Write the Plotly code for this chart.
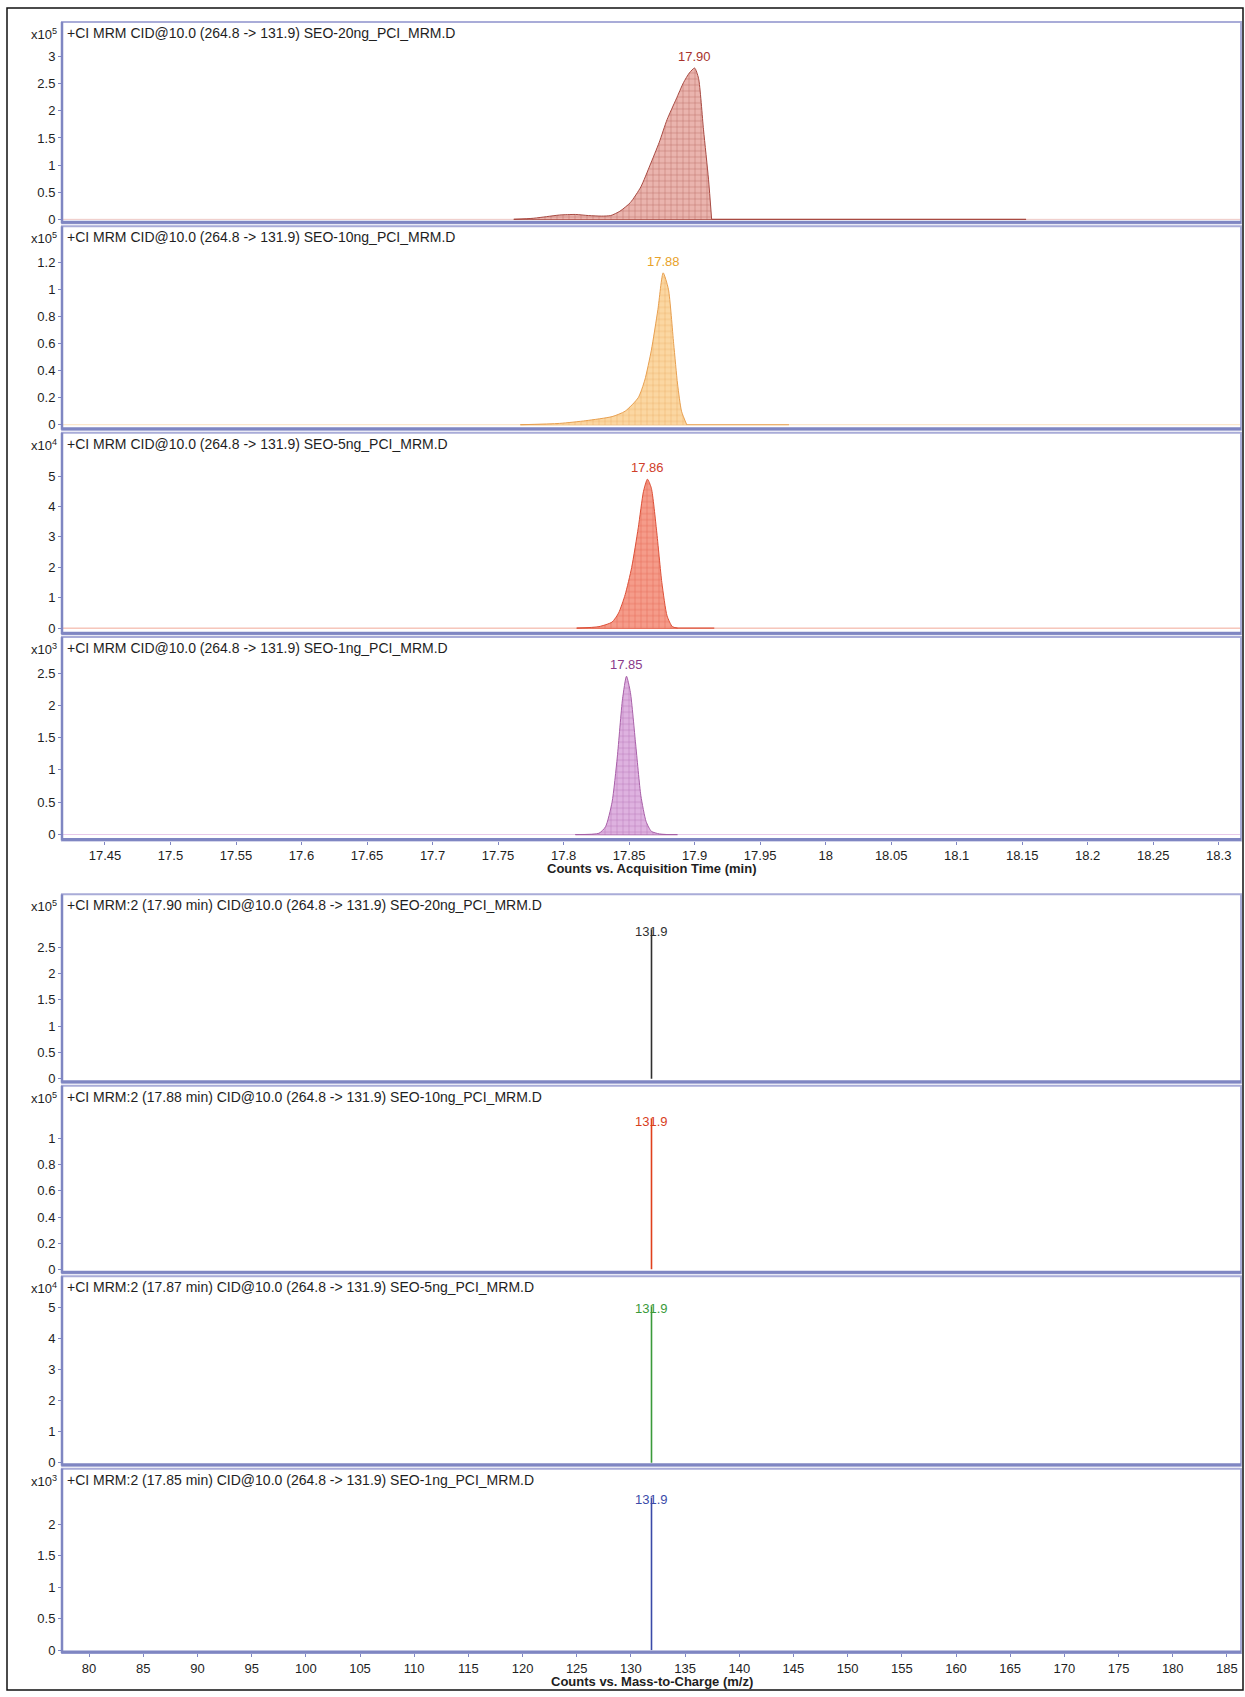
import plotly.graph_objects as go

W, H = 1245, 1697

# ---------------- data ----------------
# Chromatograms (x: acquisition time, min ; y: counts in the panel's x10^n unit)
time_20ng = [17.762, 17.777, 17.787, 17.797, 17.809, 17.819, 17.829, 17.836, 17.843, 17.851, 17.859, 17.866, 17.873, 17.879, 17.886, 17.8915, 17.896, 17.900, 17.903, 17.9068, 17.9106, 17.913]
int_20ng = [0.0, 0.02, 0.05, 0.08, 0.09, 0.07, 0.06, 0.07, 0.15, 0.31, 0.6, 1.0, 1.42, 1.84, 2.22, 2.52, 2.7, 2.79, 2.6, 1.65, 0.74, 0.0]
base_20ng = [17.762, 18.153]

time_10ng = [17.767, 17.797, 17.817, 17.837, 17.847, 17.857, 17.862, 17.867, 17.872, 17.876, 17.880, 17.884, 17.887, 17.890, 17.894]
int_10ng = [0.0, 0.01, 0.03, 0.06, 0.1, 0.2, 0.33, 0.55, 0.85, 1.12, 1.0, 0.6, 0.3, 0.1, 0.0]
base_10ng = [17.767, 17.972]

time_5ng = [17.810, 17.827, 17.837, 17.842, 17.847, 17.852, 17.857, 17.861, 17.864, 17.867, 17.871, 17.875, 17.879, 17.883, 17.887]
int_5ng = [0.0, 0.05, 0.2, 0.5, 1.1, 2.0, 3.3, 4.5, 4.9, 4.6, 3.2, 1.5, 0.4, 0.05, 0.0]
base_5ng = [17.810, 17.915]

time_1ng = [17.809, 17.827, 17.832, 17.837, 17.841, 17.845, 17.848, 17.851, 17.855, 17.859, 17.863, 17.867, 17.873, 17.879]
int_1ng = [0.0, 0.02, 0.12, 0.5, 1.2, 2.1, 2.45, 2.2, 1.4, 0.6, 0.2, 0.05, 0.01, 0.0]
base_1ng = [17.809, 17.887]

peak_rt = ["17.90", "17.88", "17.86", "17.85"]
peak_rt_x = [17.900, 17.876, 17.864, 17.848]
peak_rt_y = [2.79, 1.12, 4.9, 2.45]

# Product ion spectra
spec_mz = [131.9, 131.9, 131.9, 131.9]
spec_int = [2.84, 1.15, 5.03, 2.43]
spec_label = ["131.9", "131.9", "131.9", "131.9"]

chrom_titles = [
    "+CI MRM CID@10.0 (264.8 -> 131.9) SEO-20ng_PCI_MRM.D",
    "+CI MRM CID@10.0 (264.8 -> 131.9) SEO-10ng_PCI_MRM.D",
    "+CI MRM CID@10.0 (264.8 -> 131.9) SEO-5ng_PCI_MRM.D",
    "+CI MRM CID@10.0 (264.8 -> 131.9) SEO-1ng_PCI_MRM.D",
]
spec_titles = [
    "+CI MRM:2 (17.90 min) CID@10.0 (264.8 -> 131.9) SEO-20ng_PCI_MRM.D",
    "+CI MRM:2 (17.88 min) CID@10.0 (264.8 -> 131.9) SEO-10ng_PCI_MRM.D",
    "+CI MRM:2 (17.87 min) CID@10.0 (264.8 -> 131.9) SEO-5ng_PCI_MRM.D",
    "+CI MRM:2 (17.85 min) CID@10.0 (264.8 -> 131.9) SEO-1ng_PCI_MRM.D",
]
exponents = ["5", "5", "4", "3", "5", "5", "4", "3"]

y_ticks = [
    [0, 0.5, 1, 1.5, 2, 2.5, 3],
    [0, 0.2, 0.4, 0.6, 0.8, 1, 1.2],
    [0, 1, 2, 3, 4, 5],
    [0, 0.5, 1, 1.5, 2, 2.5],
    [0, 0.5, 1, 1.5, 2, 2.5],
    [0, 0.2, 0.4, 0.6, 0.8, 1],
    [0, 1, 2, 3, 4, 5],
    [0, 0.5, 1, 1.5, 2],
]
time_ticks = [17.45, 17.5, 17.55, 17.6, 17.65, 17.7, 17.75, 17.8, 17.85, 17.9, 17.95,
              18.0, 18.05, 18.1, 18.15, 18.2, 18.25, 18.3]
time_tick_text = ["17.45", "17.5", "17.55", "17.6", "17.65", "17.7", "17.75", "17.8", "17.85",
                  "17.9", "17.95", "18", "18.05", "18.1", "18.15", "18.2", "18.25", "18.3"]
mz_ticks = list(range(80, 186, 5))

# ---------------- layout geometry (pixels) ----------------
px_left, px_right = 62, 1241
# (top px, bottom px, zero px, px per unit)
panels = [
    (22, 224, 220, 54.4),
    (227, 431, 426, 136.0),
    (434, 636, 630, 30.5),
    (639, 843, 837, 64.8),
    (897, 1086, 1082, 52.8),
    (1089, 1277, 1273, 131.0),
    (1280, 1470, 1467, 31.2),
    (1473, 1658, 1655, 63.0),
]
time_range = [17.4172, 18.3170]
mz_range = [77.5, 186.3]

FONT = "Liberation Sans, Arial, sans-serif"
TXT = "#1e1e1e"
FRAME = "#a9acd8"
AXIS = "#7f86c2"

chrom_fill = ["#eab4ae", "#fbd7a2", "#f59c8a", "#deb2e0"]
chrom_grid = ["#9c3a34", "#e0903a", "#d8402a", "#9a4a9a"]
chrom_line = ["#a84a42", "#e8a050", "#dc5038", "#a860a8"]
chrom_base = ["#eec8c4", "#fbe0bc", "#f2a898", "#e8c8ea"]
rt_color = ["#a8322c", "#e8a22a", "#d0402a", "#8a3a8a"]
spec_color = ["#303030", "#e0401c", "#3a9a3a", "#3a4aa8"]
label_spec_color = ["#303030", "#d8401c", "#3a9a3a", "#3a4aa8"]

fig = go.Figure()
layout = dict(
    width=W, height=H, margin=dict(l=0, r=0, t=0, b=0),
    paper_bgcolor="white", plot_bgcolor="white", showlegend=False,
    font=dict(family=FONT, size=13, color=TXT),
)

annotations = []
shapes = []

def ypaper(py):
    return 1 - py / H

for i, (top, bot, zero, ppu) in enumerate(panels):
    n = i + 1
    xa = "xaxis" if n == 1 else f"xaxis{n}"
    ya = "yaxis" if n == 1 else f"yaxis{n}"
    xr = "x" if n == 1 else f"x{n}"
    yr = "y" if n == 1 else f"y{n}"
    yrange = [-(bot - zero) / ppu, (zero - top) / ppu]
    is_chrom = i < 4
    show_x = (n == 4) or (n == 8)
    layout[xa] = dict(
        domain=[px_left / W, px_right / W], anchor=yr,
        range=time_range if is_chrom else mz_range,
        tickvals=(time_ticks if is_chrom else mz_ticks) if show_x else [],
        ticktext=(time_tick_text if is_chrom else [str(v) for v in mz_ticks]) if show_x else None,
        showticklabels=show_x, ticks="outside" if show_x else "", ticklen=3,
        tickcolor=AXIS, tickfont=dict(size=13, color=TXT, family=FONT),
        showgrid=False, zeroline=False, showline=False, fixedrange=True,
    )
    layout[ya] = dict(
        domain=[ypaper(bot), ypaper(top)], anchor=xr, range=yrange,
        tickvals=y_ticks[i], ticktext=[("%g" % v) for v in y_ticks[i]],
        ticks="outside", ticklen=3, tickcolor=AXIS,
        tickfont=dict(size=13, color=TXT, family=FONT),
        showgrid=False, zeroline=False, showline=False, fixedrange=True,
    )
    # frame
    shapes.append(dict(type="rect", xref="paper", yref="paper",
                       x0=px_left / W, x1=px_right / W, y0=ypaper(bot), y1=ypaper(top),
                       line=dict(color=FRAME, width=2), layer="above"))
    # left axis line
    shapes.append(dict(type="line", xref="paper", yref="paper",
                       x0=px_left / W, x1=px_left / W, y0=ypaper(bot), y1=ypaper(top),
                       line=dict(color=AXIS, width=2.5), layer="above"))
    # bottom heavy line
    shapes.append(dict(type="line", xref="paper", yref="paper",
                       x0=px_left / W, x1=px_right / W, y0=ypaper(bot - 1), y1=ypaper(bot - 1),
                       line=dict(color=AXIS, width=3), layer="above"))
    # exponent label
    annotations.append(dict(xref="paper", yref="paper", x=(px_left - 3) / W, y=ypaper(top + 12),
                            text=f"x10<sup>{exponents[i]}</sup>", showarrow=False,
                            xanchor="right", yanchor="middle",
                            font=dict(size=13, color=TXT, family=FONT)))
    # panel title
    annotations.append(dict(xref="paper", yref="paper", x=(px_left + 3) / W, y=ypaper(top + 11),
                            text=(chrom_titles[i] if is_chrom else spec_titles[i - 4]),
                            showarrow=False, xanchor="left", yanchor="middle",
                            font=dict(size=14, color=TXT, family=FONT)))

chrom_t = [time_20ng, time_10ng, time_5ng, time_1ng]
chrom_i = [int_20ng, int_10ng, int_5ng, int_1ng]
chrom_b = [base_20ng, base_10ng, base_5ng, base_1ng]

for i in range(4):
    n = i + 1
    xr = "x" if n == 1 else f"x{n}"
    yr = "y" if n == 1 else f"y{n}"
    # faint zero line across the panel
    fig.add_trace(go.Scatter(x=time_range, y=[0, 0], mode="lines", xaxis=xr, yaxis=yr,
                             line=dict(color=chrom_base[i], width=1), hoverinfo="skip"))
    fig.add_trace(go.Scatter(x=chrom_b[i], y=[0, 0], mode="lines", xaxis=xr, yaxis=yr,
                             line=dict(color=chrom_line[i], width=1.2), hoverinfo="skip"))
    fig.add_trace(go.Scatter(
        x=chrom_t[i], y=chrom_i[i], mode="lines", xaxis=xr, yaxis=yr,
        line=dict(color=chrom_line[i], width=1, shape="spline", smoothing=0.6),
        fill="tozeroy", fillcolor=chrom_fill[i],
        fillpattern=dict(shape="+", fgcolor=chrom_grid[i], bgcolor=chrom_fill[i],
                         size=6, solidity=0.18),
        hoverinfo="skip"))
    annotations.append(dict(x=peak_rt_x[i], y=peak_rt_y[i], xref=xr, yref=yr,
                            text=peak_rt[i], showarrow=False, yanchor="bottom", yshift=2,
                            font=dict(size=13, color=rt_color[i], family=FONT)))

for i in range(4):
    n = i + 5
    xr = f"x{n}"
    yr = f"y{n}"
    fig.add_trace(go.Scatter(x=[spec_mz[i], spec_mz[i]], y=[0, spec_int[i]], mode="lines",
                             xaxis=xr, yaxis=yr, line=dict(color=spec_color[i], width=1.6),
                             hoverinfo="skip"))
    annotations.append(dict(x=spec_mz[i], y=spec_int[i], xref=xr, yref=yr,
                            text=spec_label[i], showarrow=False, yanchor="middle", yshift=-2,
                            font=dict(size=13, color=label_spec_color[i], family=FONT)))

# axis titles
annotations.append(dict(xref="paper", yref="paper", x=(px_left + px_right) / 2 / W, y=ypaper(871),
                        text="<b>Counts vs. Acquisition Time (min)</b>", showarrow=False,
                        xanchor="center", yanchor="middle",
                        font=dict(size=13, color=TXT, family=FONT)))
annotations.append(dict(xref="paper", yref="paper", x=(px_left + px_right) / 2 / W, y=ypaper(1686),
                        text="<b>Counts vs. Mass-to-Charge (m/z)</b>", showarrow=False,
                        xanchor="center", yanchor="middle",
                        font=dict(size=13, color=TXT, family=FONT)))

# outer border
shapes.append(dict(type="rect", xref="paper", yref="paper",
                   x0=7 / W, x1=1243 / W, y0=ypaper(1695), y1=ypaper(8),
                   line=dict(color="#111111", width=1.5), layer="above"))

layout["annotations"] = annotations
layout["shapes"] = shapes
fig.update_layout(**layout)
fig.write_html("out.html")
